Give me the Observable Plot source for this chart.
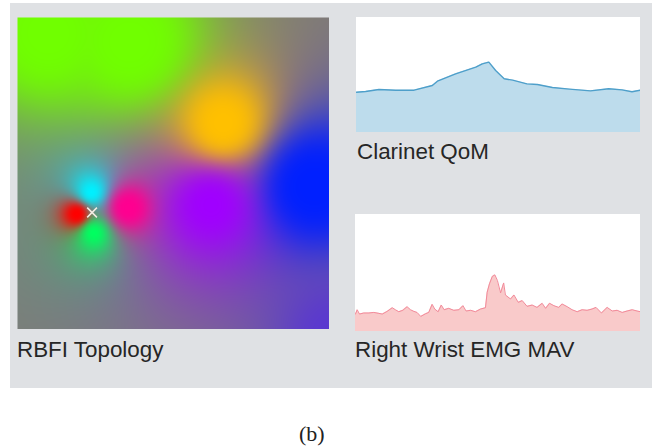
<!DOCTYPE html>
<html>
<head>
<meta charset="utf-8">
<script src="https://cdn.jsdelivr.net/npm/d3@7"></script>
<script src="https://cdn.jsdelivr.net/npm/@observablehq/plot@0.6"></script>
<style>
  html, body { margin: 0; padding: 0; background: #fff; }
  #page { position: relative; width: 656px; height: 448px; overflow: hidden; font-family: "Liberation Sans", Arial, sans-serif; }
  #panel { position: absolute; left: 10px; top: 3px; width: 642px; height: 385px; background: #dfe1e4; }
  .slot { position: absolute; line-height: 0; }
  .cap { position: absolute; font-size: 22.4px; line-height: 24px; color: #262626; white-space: nowrap; }
  #sub { position: absolute; left: 299px; top: 422px; font-family: "Liberation Serif", serif; font-size: 22px; line-height: 24px; color: #222; }
</style>
</head>
<body>
<div id="page">
  <div id="panel"></div>
  <div class="slot" id="topo" style="left:17px;top:17px"></div>
  <div class="slot" id="qom" style="left:356px;top:17px"></div>
  <div class="slot" id="emg" style="left:355px;top:214px"></div>
  <div class="cap" style="left:17px;top:338px">RBFI Topology</div>
  <div class="cap" style="left:357px;top:140px">Clarinet QoM</div>
  <div class="cap" style="left:355px;top:338px">Right Wrist EMG MAV</div>
  <div id="sub">(b)</div>
</div>
<script>
// Topology control points (position in % of the square), colour, reach and falloff
const nodeX      = [10, 36, 66, 95, 62, 35.5, 23.7, 19, 24.5, 102];
const nodeY      = [5, 8, 34, 54, 60, 61, 56, 63, 69, 102];
const nodeColor  = ["#70ff00", "#70ff00", "#ffc000", "#0020ff", "#a000ff", "#ff0090", "#00f0ff", "#ff0000", "#00ff60", "#5a38d0"];
const nodeReach  = [28, 28, 22, 27, 27, 13, 12, 9, 12, 24];
const nodePower  = [4, 4, 3.4, 3.6, 2.6, 3.2, 2.4, 3, 2.4, 2.8];
const fieldColor = "#80806f";
const cursorX = [23.9];
const cursorY = [62.5];

// Clarinet QoM
const qomX = [0,3.2,7.9,13.8,20.3,26.7,28.5,34.9,42,44.3,46.6,49,52,55,60,63.7,69,75,82.4,88.8,93.5,97,100];
const qomV = [.350,.357,.374,.368,.368,.409,.446,.510,.568,.597,.612,.539,.467,.455,.423,.417,.391,.377,.362,.380,.371,.354,.368];

// Right Wrist EMG MAV
const emgX = [0,.6,1.4,2.9,4.7,6.4,8.2,9.4,11.1,12.9,14,15.2,16.6,18.1,19.3,20.5,21.6,22.9,24.6,25.7,26.9,27.8,29,30.1,31.1,32.7,34.5,36.3,37.7,38.8,40.4,42.1,43.9,45.6,46.2,47,48,48.9,49.8,50.9,52,52.6,54.4,55.6,57.1,58.5,60.2,62,63.7,65.5,66.7,68.1,69.6,71.3,72.5,74.3,76,77.8,79.5,81.3,83,84.4,86.3,88.3,90.1,91.8,93.6,95.3,97.1,98.8,100];
const emgV = [.149,.186,.149,.158,.158,.163,.155,.149,.172,.203,.186,.169,.181,.212,.186,.172,.163,.129,.152,.163,.232,.192,.169,.226,.186,.198,.181,.186,.221,.175,.181,.169,.192,.203,.335,.407,.470,.484,.436,.330,.415,.312,.278,.312,.249,.264,.215,.226,.206,.241,.198,.241,.221,.206,.235,.212,.186,.169,.186,.181,.192,.206,.158,.206,.175,.181,.163,.175,.186,.175,.169];

const nodeRGB = nodeColor.map(c => d3.rgb(c));
const fieldRGB = d3.rgb(fieldColor);
function blend(x, y) {
  let sum = 1, r = fieldRGB.r, g = fieldRGB.g, b = fieldRGB.b;
  for (let i = 0; i < nodeX.length; i++) {
    const d = Math.hypot(x - nodeX[i], y - nodeY[i]) + 0.01;
    const w = Math.pow(nodeReach[i] / d, nodePower[i]);
    sum += w; r += w * nodeRGB[i].r; g += w * nodeRGB[i].g; b += w * nodeRGB[i].b;
  }
  return `rgb(${Math.round(r / sum)},${Math.round(g / sum)},${Math.round(b / sum)})`;
}

document.getElementById("topo").append(Plot.plot({
  width: 312, height: 312, margin: 0,
  x: {domain: [0, 100], axis: null},
  y: {domain: [100, 0], axis: null},
  color: {type: "identity"},
  marks: [
    Plot.raster({x1: 0, y1: 0, x2: 100, y2: 100, fill: blend, pixelSize: 1}),
    Plot.dot(cursorX.map((x, i) => ({x, y: cursorY[i]})), {x: "x", y: "y", symbol: "times", r: 4.5, stroke: "#f3ece4", strokeWidth: 1.5})
  ]
}));

function trace(id, xs, vs, w, h, fill, stroke, sw) {
  const rows = xs.map((x, i) => ({x, v: vs[i]}));
  document.getElementById(id).append(Plot.plot({
    width: w, height: h, margin: 0,
    style: {background: "#fff"},
    x: {domain: [0, 100], axis: null},
    y: {domain: [0, 1], axis: null},
    marks: [
      Plot.areaY(rows, {x: "x", y: "v", fill}),
      Plot.lineY(rows, {x: "x", y: "v", stroke, strokeWidth: sw})
    ]
  }));
}
trace("qom", qomX, qomV, 284, 115, "#bddcec", "#4e9fca", 1.4);
trace("emg", emgX, emgV, 285, 117, "#f9caca", "#f28a9a", 1);
</script>
</body>
</html>
